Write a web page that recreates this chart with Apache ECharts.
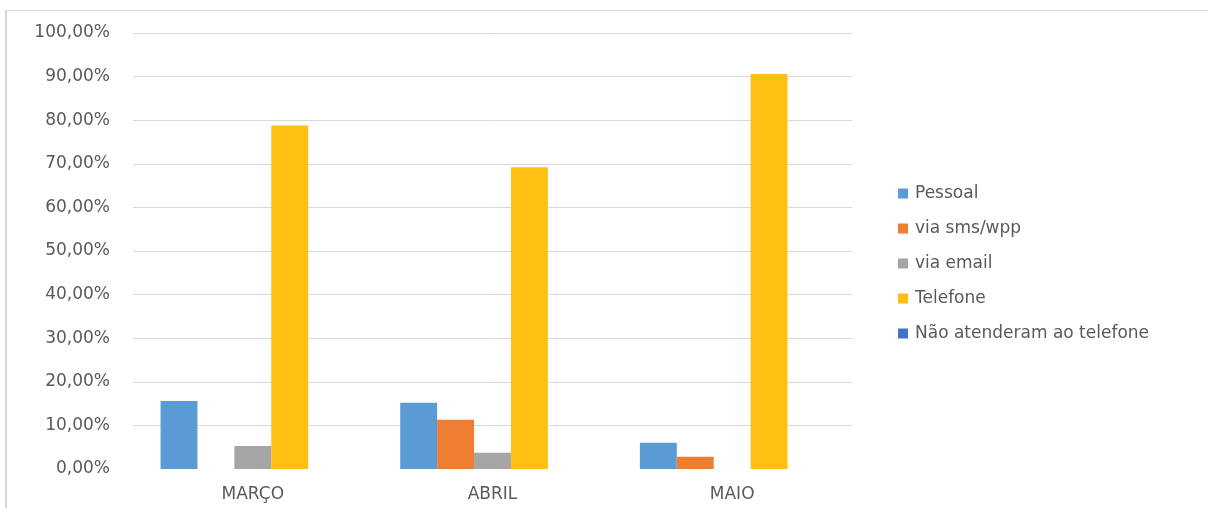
<!DOCTYPE html>
<html>
<head>
<meta charset="utf-8">
<script src="https://cdn.jsdelivr.net/npm/echarts@6/dist/echarts.min.js"></script>
<style>
html,body{margin:0;padding:0;background:#fff;}
#frame{position:absolute;left:5px;top:10px;width:1203px;height:498px;border-left:2px solid #d4d4d4;border-top:1px solid #d9d9d9;box-sizing:border-box;}
#chart{position:absolute;left:0;top:0;width:1208px;height:508px;}
</style>
</head>
<body>
<div id="frame"></div>
<div id="chart"></div>
<script>
const categories = ['MARÇO', 'ABRIL', 'MAIO'];
const seriesNames = ['Pessoal', 'via sms/wpp', 'via email', 'Telefone', 'Não atenderam ao telefone'];
const pessoal = [0.156, 0.152, 0.060];
const smsWpp = [0, 0.113, 0.028];
const email = [0.053, 0.037, 0];
const telefone = [0.788, 0.692, 0.906];
const naoAtenderam = [0, 0, 0];
const yTicks = [0, 0.1, 0.2, 0.3, 0.4, 0.5, 0.6, 0.7, 0.8, 0.9, 1.0];

const allData = [pessoal, smsWpp, email, telefone, naoAtenderam];
const font = 'DejaVu Sans';
const chart = echarts.init(document.getElementById('chart'), null, {renderer: 'canvas'});
const gridColors = yTicks.map((t, i) => i === 0 ? 'rgba(0,0,0,0)' : '#d9d9d9');
chart.setOption({
  animation: false,
  color: ['#5b9bd5', '#ed7d31', '#a5a5a5', '#fcbf12', '#4472c4'],
  grid: {left: 133, right: 356, top: 33, bottom: 39, containLabel: false},
  legend: {
    orient: 'vertical',
    left: 893,
    top: 180,
    itemWidth: 10,
    itemHeight: 10,
    itemGap: 18,
    icon: 'rect',
    data: seriesNames,
    textStyle: {fontFamily: font, fontSize: 17, color: '#595959', padding: [0, 0, 0, 2]}
  },
  xAxis: {
    type: 'category',
    data: categories,
    axisLine: {show: false},
    axisTick: {show: false},
    axisLabel: {fontFamily: font, fontSize: 17, color: '#595959', margin: 17}
  },
  yAxis: {
    type: 'value',
    min: yTicks[0],
    max: yTicks[yTicks.length - 1],
    interval: 0.1,
    axisLine: {show: false},
    axisTick: {show: false},
    splitLine: {show: true, lineStyle: {color: gridColors, width: 1}},
    axisLabel: {
      fontFamily: font, fontSize: 17, color: '#595959', margin: 23,
      formatter: v => (v * 100).toFixed(2).replace('.', ',') + '%'
    }
  },
  series: seriesNames.map((name, i) => ({
    name: name,
    type: 'bar',
    data: allData[i],
    barGap: '0%',
    barCategoryGap: '23%'
  }))
});
</script>
</body>
</html>
